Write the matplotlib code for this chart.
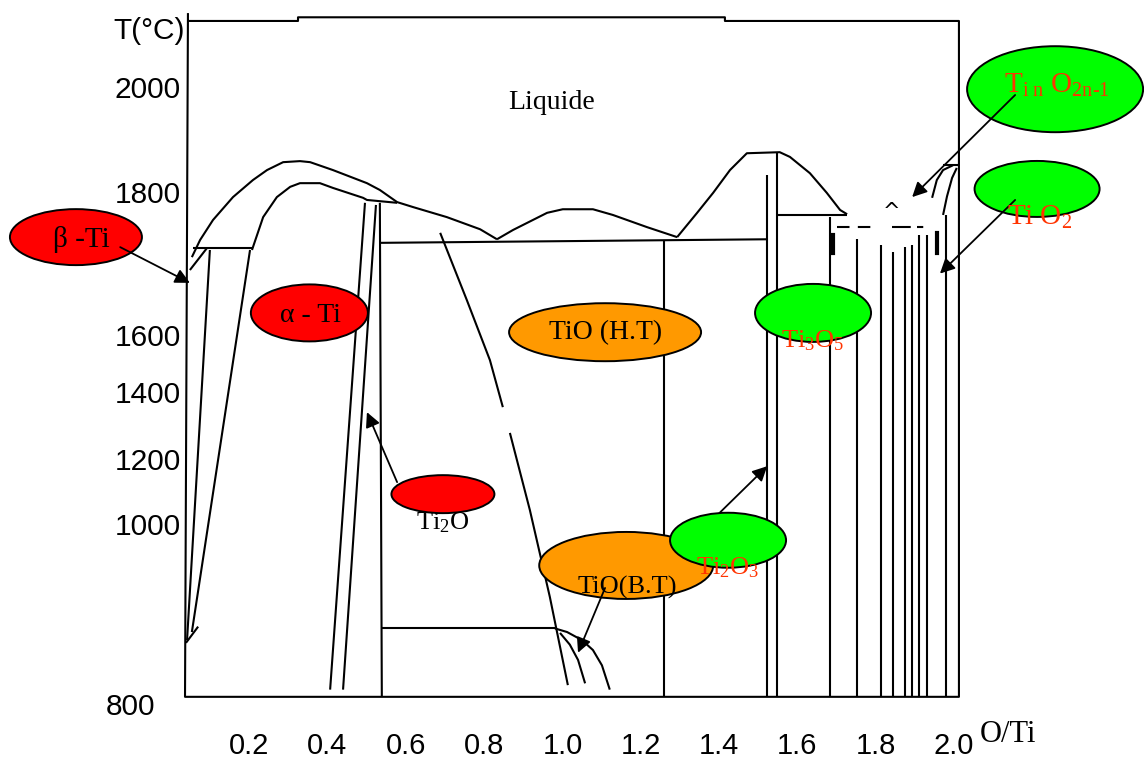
import matplotlib
matplotlib.use("Agg")
import matplotlib.pyplot as plt
import matplotlib.transforms as mtransforms
from matplotlib.patches import Ellipse
import numpy as np

plt.rcParams['mathtext.fontset'] = 'custom'
plt.rcParams['mathtext.rm'] = 'Liberation Serif'
plt.rcParams['mathtext.it'] = 'Liberation Serif:italic'

# Ti - O phase diagram (O/Ti ratio vs T in °C), redrawn from a scanned plate

# axis ticks
x_ticks = [0.2, 0.4, 0.6, 0.8, 1.0, 1.2, 1.4, 1.6, 1.8, 2.0]
x_ticklabels = ['0.2', '0.4', '0.6', '0.8', '1.0', '1.2', '1.4', '1.6', '1.8', '2.0']
T_ticks = [800, 1000, 1200, 1400, 1600, 1800, 2000]

# the plate's temperature axis is not linear: height (px) of each temperature
T_SCALE = [600, 800, 1000, 1200, 1400, 1600, 1800, 2000, 2400]
H_SCALE = [884, 704, 524, 459, 392, 335, 192, 87, -123]

# liquidus, Ti side down to the first eutectic
liq_ti_x = [0.054, 0.075, 0.108, 0.159, 0.210, 0.246, 0.287, 0.330, 0.356, 0.414,
            0.501, 0.534, 0.578, 0.619, 0.705, 0.790, 0.833]
liq_ti_T = [1709, 1733, 1761, 1793, 1823, 1842, 1857, 1859, 1857, 1842,
            1817, 1804, 1786, 1779, 1765, 1748, 1734]
# TiO maximum
tio_dome_x = [0.833, 0.874, 0.961, 1.001, 1.078, 1.129, 1.216, 1.293]
tio_dome_T = [1734, 1747, 1771, 1776, 1776, 1768, 1751, 1737]
# Ti3O5 maximum
ti3o5_dome_x = [1.293, 1.344, 1.385, 1.428, 1.471, 1.555, 1.581, 1.632, 1.675, 1.709, 1.727]
ti3o5_dome_T = [1737, 1771, 1799, 1842, 1874, 1876, 1867, 1836, 1799, 1775, 1769]
# alpha-Ti solidus dome
alpha_dome_x = [0.2075, 0.236, 0.271, 0.305, 0.330, 0.381, 0.414, 0.491, 0.501, 0.578]
alpha_dome_T = [1719, 1765, 1793, 1810, 1817, 1817, 1808, 1792, 1789, 1785]
# TiO high temperature boundary (two pieces, gap in the plate)
tio_ht_x1 = [0.688, 0.756, 0.815, 0.848]
tio_ht_T1 = [1743, 1649, 1512, 1355]
tio_ht_x2 = [0.866, 0.917, 0.968, 1.014]
tio_ht_T2 = [1278, 1043, 919, 821]
# TiO low temperature domes
tio_bt_x1 = [0.981, 1.012, 1.050, 1.078, 1.101, 1.121]
tio_bt_T1 = [884, 880, 871, 860, 843, 816]
tio_bt_x2 = [0.994, 1.019, 1.040, 1.058]
tio_bt_T2 = [879, 866, 849, 823]
# TiO2 side liquidus
tio2_liq_x1 = [1.944, 1.956, 1.972, 1.997]
tio2_liq_T1 = [1792, 1823, 1842, 1851]
tio2_liq_x2 = [1.972, 1.982, 1.995, 2.007]
tio2_liq_T2 = [1768, 1794, 1827, 1846]

# straight boundaries: x0, T0, x1, T1
straight = [
    (0.057, 1722, 0.210, 1722),
    (0.049, 1691, 0.093, 1722),
    (0.100, 1719, 0.0417, 871),
    (0.2025, 1719, 0.054, 880),
    (0.039, 868, 0.070, 886),
    (0.496, 1785, 0.407, 816),
    (0.524, 1782, 0.440, 816),
    (0.534, 1785, 0.539, 808),
    (0.534, 1729, 1.523, 1734),
    (1.259, 1731, 1.259, 808),
    (1.523, 1832, 1.523, 808),
    (1.548, 1876, 1.548, 808),
    (1.548, 1768, 1.727, 1768),
    (0.539, 884, 0.981, 884),
    (1.972, 1851, 2.0125, 1851),
]

# Magneli phases and TiO2 verticals
magneli_x = [1.683, 1.752, 1.813, 1.844, 1.876, 1.893, 1.911, 1.931, 1.979]
magneli_top = [1765, 1735, 1726, 1716, 1723, 1726, 1740, 1740, 1768]

# frame of the plate
frame_x = [0.044, 0.325, 0.325, 1.415, 1.415, 2.0125, 2.0125, 0.0365, 0.044]
frame_T = [2126, 2126, 2133, 2133, 2126, 2126, 808, 808, 2141]

# phase labels
names = ['β -Ti', 'α - Ti', 'TiO (H.T)', r'$\mathrm{Ti_2O}$', 'TiO(B.T)',
         r'$\mathrm{Ti_2O_3}$', r'$\mathrm{Ti_3O_5}$',
         r'$\mathrm{T_{i\ n}\ O_{2n\text{-}1}}$', r'$\mathrm{Ti\ O_2}$']

RED, ORANGE, GREEN = '#ff0000', '#ff9900', '#00ff00'
TXT_RED = '#ff3300'

# layout: ellipse centre, ellipse size (px), fill, text pos, text colour, size, arrow
layout = [
    ((-0.242, 1737), (132, 56), RED, (-0.227, 1733), 'k', 21, ((-0.129, 1723), (0.049, 1673))),
    ((0.354, 1631), (117, 57), RED, (0.356, 1627), 'k', 20, None),
    ((1.109, 1604), (192, 58), ORANGE, (1.109, 1603), 'k', 20, None),
    ((0.695, 1092), (103, 38), RED, (0.695, 1003), 'k', 19, ((0.578, 1129), (0.501, 1340))),
    ((1.163, 954), (174, 67), ORANGE, (1.165, 930), 'k', 19, ((1.109, 929), (1.040, 857))),
    ((1.423, 982), (116, 55), GREEN, (1.423, 952), TXT_RED, 19, ((1.401, 1034), (1.523, 1178))),
    ((1.640, 1631), (116, 58), GREEN, (1.640, 1582), TXT_RED, 19, None),
    ((2.258, 1996), (176, 86), GREEN, (2.263, 2004), TXT_RED, 21, ((2.156, 1985), (1.893, 1793))),
    ((2.212, 1806), (125, 56), GREEN, (2.219, 1765), TXT_RED, 21, ((2.156, 1789), (1.964, 1686))),
]

DPI = 100
fig = plt.figure(figsize=(11.44, 7.63), dpi=DPI)
ax = fig.add_axes([0.1595, 0.0655, 0.6813, 0.9201])


def to_plate(t):
    return -np.interp(t, T_SCALE, H_SCALE)


def from_plate(v):
    return np.interp(-np.asarray(v), H_SCALE[::-1], T_SCALE[::-1])


ax.set_yscale('function', functions=(to_plate, from_plate))
ax.set_xlim(0.03, 2.02)
ax.set_ylim(790, 2145)
for s in ax.spines.values():
    s.set_visible(False)

lk = dict(color='k', lw=1.5, zorder=2, solid_capstyle='butt')
ax.plot(frame_x, frame_T, **lk)
for xs, ts in [(liq_ti_x, liq_ti_T), (tio_dome_x, tio_dome_T), (ti3o5_dome_x, ti3o5_dome_T),
               (alpha_dome_x, alpha_dome_T), (tio_ht_x1, tio_ht_T1), (tio_ht_x2, tio_ht_T2),
               (tio_bt_x1, tio_bt_T1), (tio_bt_x2, tio_bt_T2),
               (tio2_liq_x1, tio2_liq_T1), (tio2_liq_x2, tio2_liq_T2)]:
    ax.plot(xs, ts, **lk)
for x0, t0, x1, t1 in straight:
    ax.plot([x0, x1], [t0, t1], **lk)
ax.vlines(magneli_x, 808, magneli_top, colors='k', lw=1.5, zorder=2)

# odd bits left on the plate
ax.plot([1.701, 1.788], [1751, 1751], color='k', lw=1.5, ls=(0, (6, 4)), zorder=2)
ax.plot([1.841, 1.931], [1751, 1751], color='k', lw=1.5, ls=(0, (9, 3, 3, 3)), zorder=2)
ax.text(1.841, 1772, '^', ha='center', va='center', fontsize=15, zorder=2)
ax.plot([1.690, 1.690], [1740, 1715], color='k', lw=3, zorder=2)
ax.plot([1.957, 1.957], [1743, 1715], color='k', lw=3, zorder=2)

for name, (c, (w, h), fc, tpos, tcol, fs, arrow) in zip(names, layout):
    trans = fig.dpi_scale_trans + mtransforms.ScaledTranslation(c[0], c[1], ax.transData)
    ax.add_artist(Ellipse((0, 0), w / DPI, h / DPI, transform=trans, fc=fc, ec='k',
                          lw=1.4, zorder=4, clip_on=False))
    ax.text(tpos[0], tpos[1], name, ha='center', va='center', fontsize=fs, color=tcol,
            family='Liberation Serif', zorder=7, clip_on=False)
    if arrow is not None:
        ax.annotate('', xy=arrow[1], xytext=arrow[0], annotation_clip=False, zorder=6,
                    arrowprops=dict(arrowstyle='-|>', color='k', lw=1.3,
                                    mutation_scale=22, shrinkA=0, shrinkB=0))

ax.text(0.973, 1971, 'Liquide', ha='center', va='center', fontsize=20,
        family='Liberation Serif')
ax.text(2.066, 766, 'O/Ti', ha='left', va='center', fontsize=22,
        family='Liberation Serif', clip_on=False)
ax.text(0.0365, 2107, 'T(°C)', ha='right', va='center', fontsize=21.5,
        family='Liberation Sans', clip_on=False)

ax.set_xticks(x_ticks, x_ticklabels, fontsize=21, family='Liberation Sans')
ax.set_yticks(T_ticks, [str(t) for t in T_ticks], fontsize=21.5, family='Liberation Sans')
ax.tick_params(axis='x', length=0, pad=14)
ax.tick_params(axis='y', length=0, pad=1)
ax.minorticks_off()
# the 800 label sits further left on the plate
lbl = ax.yaxis.get_major_ticks()[0].label1
lbl.set_transform(lbl.get_transform() + mtransforms.ScaledTranslation(-0.26, 0, fig.dpi_scale_trans))

fig.savefig('out.png', dpi=DPI)
